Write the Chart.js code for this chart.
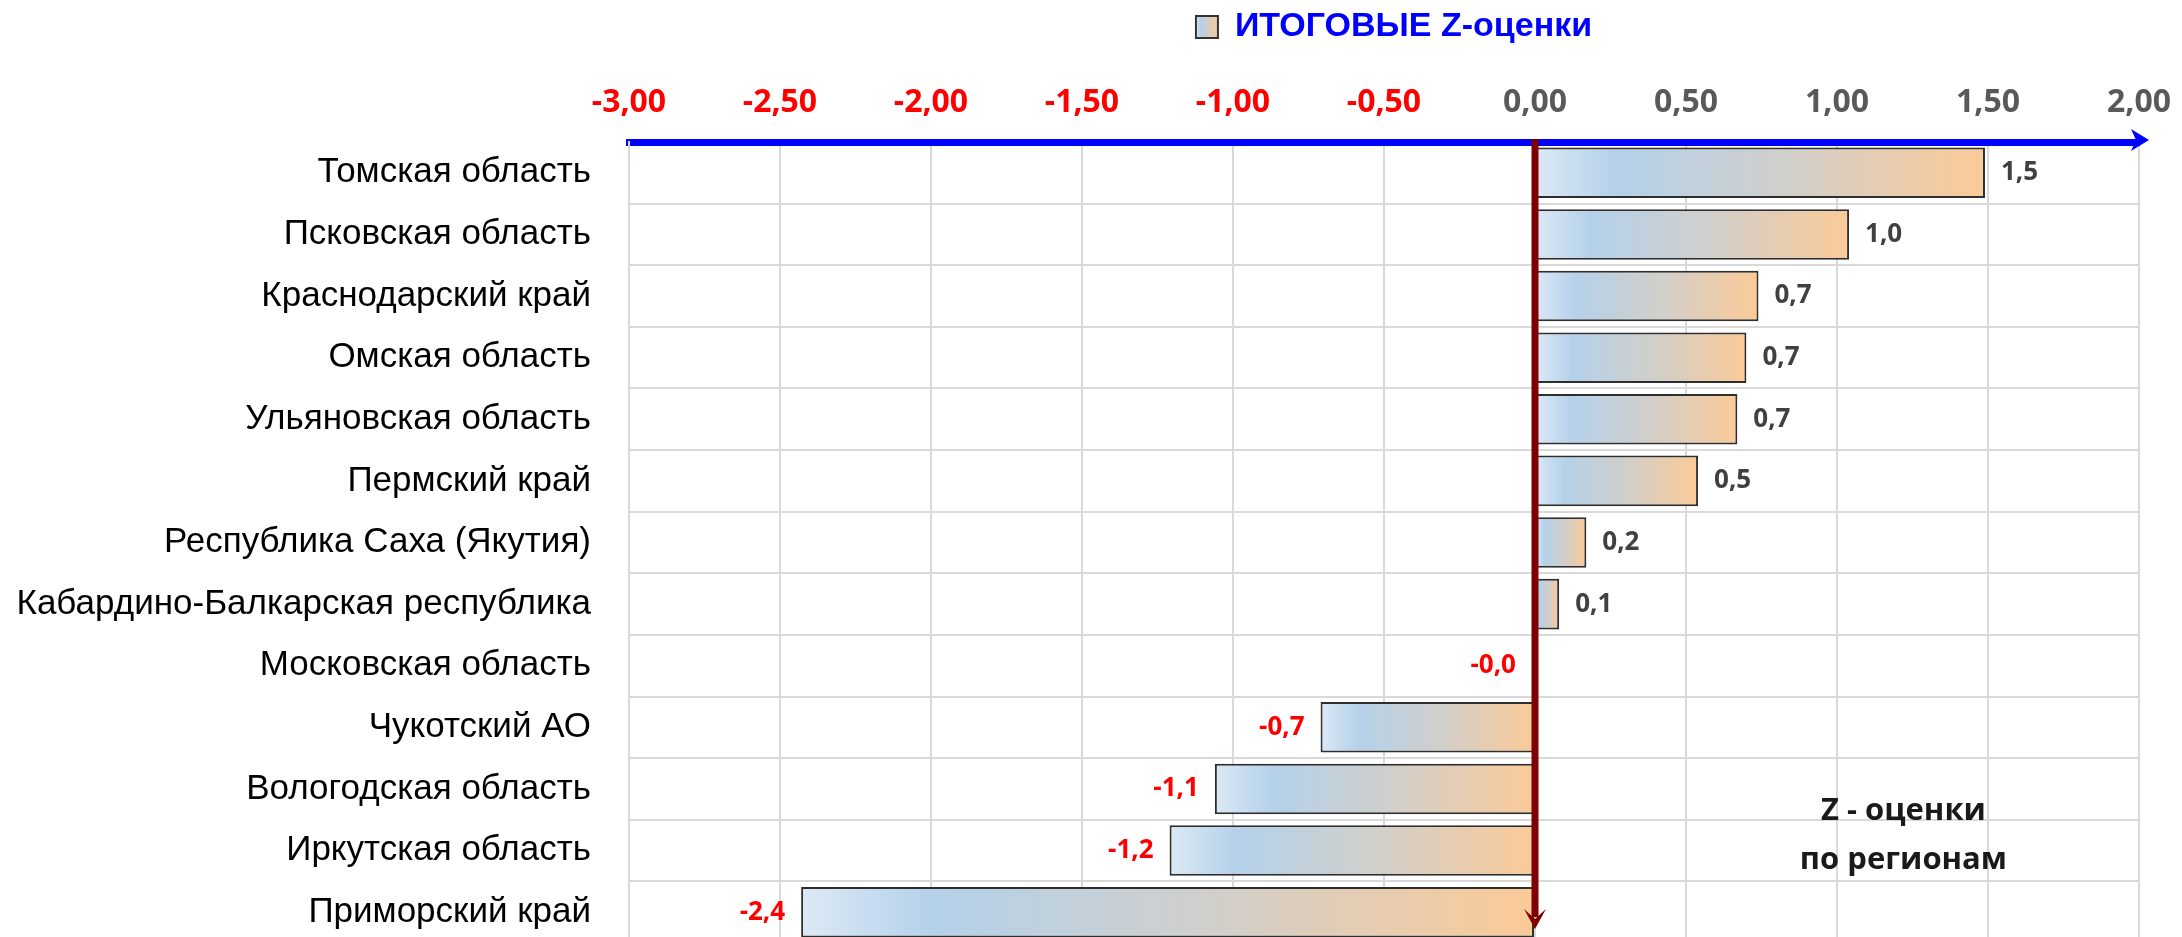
<!DOCTYPE html>
<html>
<head>
<meta charset="utf-8">
<script src="https://cdn.jsdelivr.net/npm/chart.js@4/dist/chart.umd.min.js"></script>
<style>
  html, body { margin: 0; padding: 0; background: #fff; overflow: hidden; width: 2182px; height: 937px; }
  canvas { display: block; }
</style>
</head>
<body>
<canvas id="zChart" width="2182" height="943"></canvas>
<script>
// Итоговые Z-оценки по регионам
const regions = [
    'Томская область', 'Псковская область', 'Краснодарский край', 'Омская область',
    'Ульяновская область', 'Пермский край', 'Республика Саха (Якутия)',
    'Кабардино-Балкарская республика', 'Московская область', 'Чукотский АО',
    'Вологодская область', 'Иркутская область', 'Приморский край'
];
const zScores = [1.49, 1.04, 0.74, 0.70, 0.67, 0.54, 0.17, 0.08, -0.01, -0.71, -1.06, -1.21, -2.43];
const axisMin = -3;
const axisMax = 2;
const axisStep = 0.5;
const seriesName = 'ИТОГОВЫЕ Z-оценки';
const noteLines = ['Z - оценки', 'по регионам'];

const comma = (v, d) => v.toFixed(d).replace('.', ',');

function fillGradient(ctx, x0, x1) {
    const g = ctx.createLinearGradient(x0, 0, x1, 0);
    g.addColorStop(0, '#dce9f5');
    g.addColorStop(0.18, '#b4d1ea');
    g.addColorStop(0.55, '#d0cfcc');
    g.addColorStop(1, '#fbca97');
    return g;
}

// legend swatch
const swatch = document.createElement('canvas');
swatch.width = 26; swatch.height = 26;
(function() {
    const c = swatch.getContext('2d');
    c.fillStyle = fillGradient(c, 2, 24);
    c.fillRect(2, 2, 22, 22);
    c.strokeStyle = '#333';
    c.lineWidth = 2;
    c.strokeRect(2, 2, 22, 22);
})();

const decor = {
    id: 'decor',
    afterLayout(chart) {
        // centre the legend over the plot area, like the original
        const lg = chart.legend;
        if (lg) {
            lg.left = chart.chartArea.left + 10;
            lg.right = chart.chartArea.right + 10;
            lg.width = lg.right - lg.left;
        }
    },
    afterDatasetsDraw(chart) {
        const ctx = chart.ctx;
        const area = chart.chartArea;
        const xs = chart.scales.x;
        const meta = chart.getDatasetMeta(0);

        // value labels
        ctx.save();
        ctx.font = 'bold 26px "Open Sans"';
        ctx.textBaseline = 'middle';
        meta.data.forEach((el, i) => {
            const v = zScores[i];
            if (v >= 0) {
                ctx.fillStyle = '#404040';
                ctx.textAlign = 'left';
                ctx.fillText(comma(v, 1), el.x + 16, el.y);
            } else {
                ctx.fillStyle = '#ff0000';
                ctx.textAlign = 'right';
                ctx.fillText(comma(v, 1), el.x - 16, el.y);
            }
        });
        ctx.restore();

        // red vertical arrow at zero
        const x0 = xs.getPixelForValue(0);
        const tip = 929;
        ctx.save();
        ctx.strokeStyle = '#7f0000';
        ctx.fillStyle = '#7f0000';
        ctx.lineWidth = 7;
        ctx.beginPath();
        ctx.moveTo(x0, area.top - 3);
        ctx.lineTo(x0, tip - 12);
        ctx.stroke();
        ctx.beginPath();
        ctx.moveTo(x0, tip);
        ctx.lineTo(x0 - 11, tip - 20);
        ctx.lineTo(x0, tip - 10);
        ctx.lineTo(x0 + 11, tip - 20);
        ctx.closePath();
        ctx.fill();
        ctx.restore();

        // blue arrow head on top axis
        const yTop = area.top - 2;
        ctx.save();
        ctx.fillStyle = '#0000ff';
        ctx.beginPath();
        ctx.moveTo(area.right + 10, yTop);
        ctx.lineTo(area.right - 8, yTop - 11);
        ctx.lineTo(area.right - 3, yTop);
        ctx.lineTo(area.right - 8, yTop + 11);
        ctx.closePath();
        ctx.fill();
        ctx.restore();

        // note
        ctx.save();
        ctx.font = 'bold 31px "Open Sans"';
        ctx.fillStyle = '#1a1a1a';
        ctx.textAlign = 'center';
        ctx.textBaseline = 'middle';
        const nx = xs.getPixelForValue(1.22);
        ctx.fillText(noteLines[0], nx, area.bottom - 132);
        ctx.fillText(noteLines[1], nx, area.bottom - 83);
        ctx.restore();
    }
};

new Chart(document.getElementById('zChart'), {
    type: 'bar',
    data: {
        labels: regions,
        datasets: [{
            label: seriesName,
            data: zScores,
            backgroundColor: function(context) {
                const chart = context.chart;
                if (!chart.chartArea || context.type !== 'data') return '#c8d4de';
                const xs = chart.scales.x;
                const v = context.raw;
                const a = xs.getPixelForValue(Math.min(0, v));
                const b = xs.getPixelForValue(Math.max(0, v));
                return fillGradient(chart.ctx, a, b === a ? a + 1 : b);
            },
            borderColor: '#2e2e2e',
            borderWidth: 2,
            borderSkipped: false,
            barPercentage: 0.82,
            categoryPercentage: 1
        }]
    },
    options: {
        indexAxis: 'y',
        responsive: false,
        animation: false,
        layout: { padding: { top: 6, right: 43, bottom: 0, left: 0 } },
        plugins: {
            tooltip: { enabled: false },
            legend: {
                position: 'top',
                labels: {
                    usePointStyle: true,
                    boxWidth: 22,
                    color: '#0000ff',
                    font: { family: '"Liberation Sans", Arial', size: 34, weight: 'bold' },
                    padding: 4,
                    generateLabels: () => [{
                        text: seriesName,
                        pointStyle: swatch,
                        fontColor: '#0000ff',
                        hidden: false,
                        datasetIndex: 0
                    }]
                }
            }
        },
        scales: {
            x: {
                position: 'top',
                min: axisMin,
                max: axisMax,
                ticks: {
                    stepSize: axisStep,
                    padding: 20,
                    font: { family: '"Open Sans"', size: 32, weight: 'bold' },
                    color: (c) => c.tick.value < 0 ? '#ff0000' : '#595959',
                    callback: (v) => comma(v, 2)
                },
                grid: { color: '#d9d9d9', lineWidth: 2, drawTicks: false },
                border: { color: '#0000ff', width: 7 },
                afterFit: (scale) => {
                    scale.height = 88;
                    scale.paddingLeft = 0;
                    scale.paddingRight = 0;
                }
            },
            y: {
                ticks: {
                    padding: 38,
                    color: '#000000',
                    font: { family: '"Liberation Sans", Arial', size: 35 }
                },
                grid: { color: '#d9d9d9', lineWidth: 2, drawTicks: false },
                border: { color: '#d9d9d9', width: 2 },
                afterFit: (scale) => {
                    scale.width = 629;
                    scale.paddingTop = 0;
                    scale.paddingBottom = 0;
                }
            }
        }
    },
    plugins: [decor]
});
</script>
</body>
</html>
